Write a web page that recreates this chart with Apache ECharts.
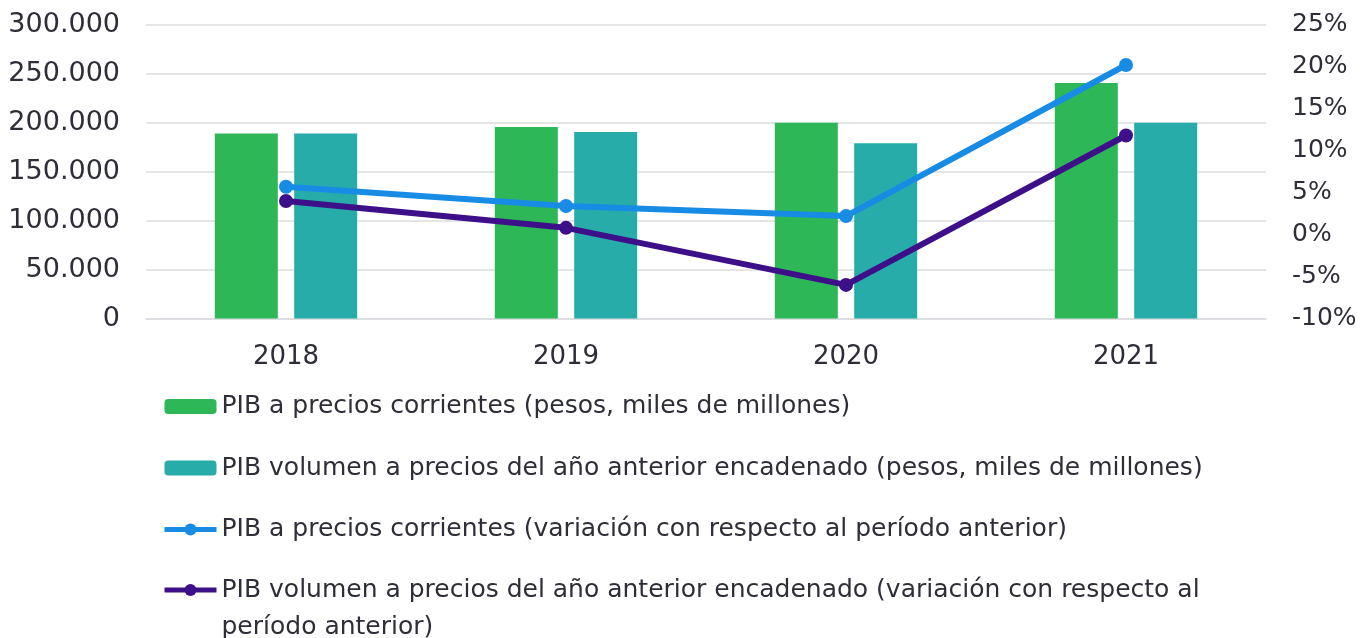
<!DOCTYPE html>
<html>
<head>
<meta charset="utf-8">
<title>PIB</title>
<script src="https://cdn.jsdelivr.net/npm/echarts@6/dist/echarts.min.js"></script>
<style>
  html, body { margin: 0; padding: 0; background: #fff; }
  #main { width: 1370px; height: 638px; }
</style>
</head>
<body>
<div id="main"></div>
<script>
// datos
var years = ['2018', '2019', '2020', '2021'];
var pibCorrientes = [189000, 195500, 200000, 240500];
var pibVolumen = [189000, 190500, 179000, 200000];
var varCorrientes = [5.7, 3.4, 2.2, 20.2];
var varVolumen = [4.0, 0.8, -6.0, 11.8];

var names = [
  'PIB a precios corrientes (pesos, miles de millones)',
  'PIB volumen a precios del año anterior encadenado (pesos, miles de millones)',
  'PIB a precios corrientes (variación con respecto al período anterior)',
  'PIB volumen a precios del año anterior encadenado (variación con respecto al período anterior)'
];

var font = 'DejaVu Sans';
var textColor = '#2e2e38';
var gridColor = '#dcdce0';

function miles(v) {
  return String(v).replace(/\B(?=(\d{3})+(?!\d))/g, '.');
}

var chart = echarts.init(document.getElementById('main'));

chart.setOption({
  animation: false,
  textStyle: { fontFamily: font, color: textColor },
  grid: {
    left: 146,
    right: 104,
    top: 24.7,
    bottom: 319.5,
    containLabel: false
  },
  legend: [{
    orient: 'vertical',
    left: 162,
    top: 388,
    padding: 0,
    itemGap: 24.5,
    itemWidth: 52,
    itemHeight: 15,
    lineStyle: { width: 5 },
    data: [names[0], names[1], names[2]],
    textStyle: { fontFamily: font, fontSize: 25, color: textColor, lineHeight: 37 }
  }, {
    orient: 'vertical',
    left: 162,
    top: 534.5,
    padding: 0,
    itemWidth: 52,
    itemHeight: 15,
    lineStyle: { width: 5 },
    data: [names[3]],
    // primera linea vacia para alinear el icono con la primera linea del texto
    formatter: function (name) {
      return '\n' + name.replace(' período', '\nperíodo');
    },
    textStyle: { fontFamily: font, fontSize: 25, color: textColor, lineHeight: 37 }
  }],
  xAxis: {
    type: 'category',
    data: years,
    axisTick: { show: false },
    axisLine: { lineStyle: { color: gridColor, width: 1.5 } },
    axisLabel: { fontSize: 26, color: textColor, margin: 26 }
  },
  yAxis: [{
    type: 'value',
    min: 0,
    max: 300000,
    interval: 50000,
    axisLabel: {
      fontSize: 27,
      color: textColor,
      margin: 26,
      formatter: function (v) { return miles(v); }
    },
    splitLine: { lineStyle: { color: gridColor, width: 1.5 } }
  }, {
    type: 'value',
    min: -10,
    max: 25,
    interval: 5,
    position: 'right',
    axisLabel: {
      fontSize: 25,
      color: textColor,
      margin: 26,
      formatter: '{value}%'
    },
    splitLine: { show: false }
  }],
  series: [{
    name: names[0],
    type: 'bar',
    data: pibCorrientes,
    barWidth: 63,
    barGap: '26%',
    itemStyle: { color: '#2db757' }
  }, {
    name: names[1],
    type: 'bar',
    data: pibVolumen,
    barWidth: 63,
    itemStyle: { color: '#27acaa' }
  }, {
    name: names[2],
    type: 'line',
    yAxisIndex: 1,
    data: varCorrientes,
    symbol: 'circle',
    symbolSize: 14,
    lineStyle: { width: 6, color: '#188ce5' },
    itemStyle: { color: '#188ce5' }
  }, {
    name: names[3],
    type: 'line',
    yAxisIndex: 1,
    data: varVolumen,
    symbol: 'circle',
    symbolSize: 14,
    lineStyle: { width: 6, color: '#3d108a' },
    itemStyle: { color: '#3d108a' }
  }]
});

window.addEventListener('resize', function () {
  chart.resize();
});
</script>
</body>
</html>
